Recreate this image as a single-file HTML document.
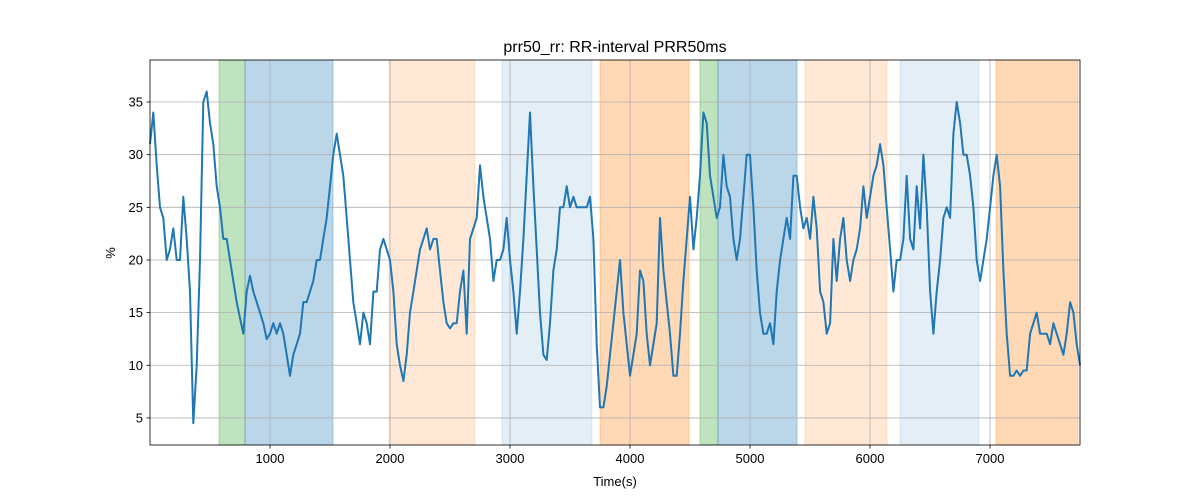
<!DOCTYPE html>
<html><head><meta charset="utf-8"><style>
body{margin:0;background:#fff;}
svg{display:block;font-family:"Liberation Sans","DejaVu Sans",sans-serif;}
</style></head><body>
<svg id="chart" width="1200" height="500" xmlns="http://www.w3.org/2000/svg">
<text x="615" y="52" text-anchor="middle" font-size="16">prr50_rr: RR-interval PRR50ms</text>
<g id="spans"></g><g id="grid"></g><g id="line"></g><g id="axes"></g>
<text x="615" y="486" text-anchor="middle" font-size="13">Time(s)</text>
<text x="115" y="253" text-anchor="middle" font-size="13" transform="rotate(-90 115 253)">%</text>
</svg>
<script>
const dt = 27.78;
const values = [31,34,29,25,24,20,21,23,20,20,26,22,17,4.5,10,20,35,36,33,31,27,25,22,22,20,18,16,14.5,13,17,18.5,17,16,15,14,12.5,13,14,13,14,13,11,9,11,12,13,16,16,17,18,20,20,22,24,27,30,32,30,28,24,20,16,14,12,15,14,12,17,17,21,22,21,20,17,12,10,8.5,11,15,17,19,21,22,23,21,22,22,19,16,14,13.5,14,14,
17,19,13,22,23,24,29,26,24,22,18,20,20,21,24,20,17,13,17,22,28,34,27,21,15,11,10.5,14,19,21,25,25,27,25,26,25,25,25,25,26,22,12,6,6,8,11,14,17,20,15,12,9,11,13,19,18,13,10,12,14,24,19,16,13,9,9,13,18,22,26,21,24,28,34,33,28,26,24,25,30,27,26,22,20,22,26,30,30,25,19,15,13,13,
14,12,17,20,22,24,22,28,28,25,23,24,22,26,23,17,16,13,14,22,18,22,24,20,18,20,21,23,27,24,26,28,29,31,29,25,21,17,20,20,22,28,22,21,27,23,30,25,17,13,17,20,24,25,24,32,35,33,30,30,28,25,20,18,20,22,25,28,30,27,19,13,9,9,9.5,9,9.5,9.5,13,14,15,13,13,13,12,14,13,12,11,13,16,15,12,10];
const spanStarts = [575,792,1992,2933,3750,4583,4733,5458,6250,7050];
const spanEnds   = [792,1525,2708,3683,4492,4733,5392,6142,6908,7733];
const spanColors = ["#2ca02c","#1f77b4","#ff7f0e","#1f77b4","#ff7f0e","#2ca02c","#1f77b4","#ff7f0e","#1f77b4","#ff7f0e"];
const spanAlphas = [0.3,0.3,0.17,0.12,0.3,0.3,0.3,0.17,0.12,0.3];
const xTicks = [1000,2000,3000,4000,5000,6000,7000];
const yTicks = [5,10,15,20,25,30,35];
const L=150,R=1080,T=60,B=445, xMin=0,xMax=7750,yMin=2.43,yMax=38.99;
const X=v=>L+(v-xMin)/(xMax-xMin)*(R-L);
const Y=v=>B-(v-yMin)/(yMax-yMin)*(B-T);
const NS="http://www.w3.org/2000/svg";
function mk(tag,attrs,parent){const e=document.createElementNS(NS,tag);for(const k in attrs)e.setAttribute(k,attrs[k]);parent.appendChild(e);return e;}
const gs=document.getElementById('spans'),gg=document.getElementById('grid'),gl=document.getElementById('line'),ga=document.getElementById('axes');
spanStarts.forEach((s,i)=>{const r=mk('rect',{x:X(s),y:T,width:X(spanEnds[i])-X(s),height:B-T,fill:spanColors[i],'fill-opacity':spanAlphas[i],stroke:spanColors[i],'stroke-opacity':spanAlphas[i]},gs);

});
xTicks.forEach(t=>{const l=mk('line',{x1:X(t),x2:X(t),y1:T,y2:B,stroke:'#b0b0b0','stroke-width':0.8},gg);


mk('line',{x1:X(t),x2:X(t),y1:B,y2:B+3.5,stroke:'#000','stroke-width':0.8},ga);
const tx=mk('text',{x:X(t),y:B+18,'text-anchor':'middle','font-size':13},ga);tx.textContent=t;

});
yTicks.forEach(t=>{const l=mk('line',{x1:L,x2:R,y1:Y(t),y2:Y(t),stroke:'#b0b0b0','stroke-width':0.8},gg);


mk('line',{x1:L-3.5,x2:L,y1:Y(t),y2:Y(t),stroke:'#000','stroke-width':0.8},ga);
const tx=mk('text',{x:L-7,y:Y(t)+4.5,'text-anchor':'end','font-size':13},ga);tx.textContent=t;

});
const d=values.map((v,i)=>(i?'L':'M')+X(i*dt).toFixed(1)+','+Y(v).toFixed(1)).join('');
const p=mk('path',{d:d,fill:'none',stroke:'#1f77b4','stroke-width':2,'stroke-linejoin':'round'},gl);


const fr=mk('rect',{x:L,y:T,width:R-L,height:B-T,fill:'none',stroke:'#000','stroke-width':0.8},ga);


</script>
</body></html>
